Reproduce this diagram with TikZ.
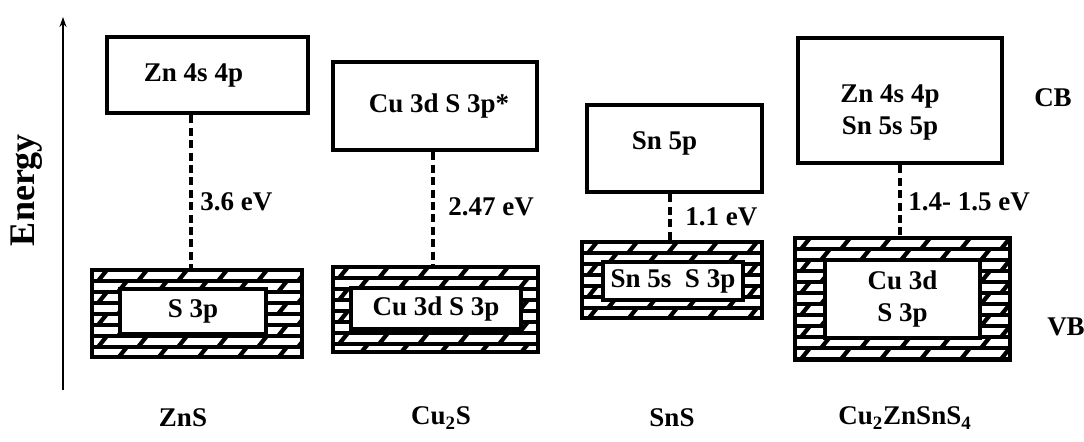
\documentclass[tikz,border=0pt]{standalone}
\usepackage{fontspec}
\setmainfont{Liberation Serif}
\usetikzlibrary{arrows.meta,fit}

\begin{document}
\begin{tikzpicture}[
  x=0.5pt, y=-0.5pt,
  font=\fontsize{13.5}{16}\selectfont\bfseries,
  every node/.style={inner sep=0pt},
  every label/.style={align=center},
  cbbox/.style={draw=ink, line width=2.4pt, fill=white},
  vbouter/.style={draw=ink, line width=2.2pt},
  vbinner/.style={draw=ink, line width=2.2pt},
  hatchline/.style={ink, line width=1.9pt},
  slash/.style={ink, line width=2.1pt},
  gap/.style={ink, line width=2pt, dash pattern=on 4pt off 2.2pt},
]

\definecolor{ink}{HTML}{000000}

\useasboundingbox (0,0) rectangle (1084,441);

% energy axis
\coordinate (abot) at (63,390);
\coordinate (atop) at (63,17);
\draw[ink, line width=1pt, -{Stealth[length=5pt,width=3.5pt]}] (abot) -- (atop);
\node[rotate=90, font=\fontsize{18}{20}\selectfont\bfseries] (elbl) at (27,190) {Energy};

% conduction bands
\node[cbbox, fit={(107,37) (308,113)},
  label={[xshift=-7pt]center:Zn 4s 4p}] (cb1) {};
\node[cbbox, fit={(333,62) (537,150)},
  label={[xshift=2pt]center:Cu 3d S 3p*}] (cb2) {};
\node[cbbox, fit={(587,105) (762,192)},
  label={[xshift=-5pt,yshift=2.5pt]center:Sn 5p}] (cb3) {};
\node[cbbox, fit={(798,38) (1002,163)},
  label={[xshift=-5pt,yshift=-6pt]center:Zn 4s 4p\\Sn 5s 5p}] (cb4) {};

% valence bands: text / outer box / inner box
\def\bands{%
  {S 3p}/92/270/302/357/120/289/266/334,
  {Cu 3d S 3p}/333/267/538/352/351/288/521/329,
  {Sn 5s~~S 3p}/582/242/762/318/603/262/743/300,
  {Cu 3d\\S 3p}/795/238/1010/360/825/260/980/338%
}

\foreach \txt/\ax/\ay/\bx/\by/\px/\py/\qx/\qy [count=\i] in \bands {
  \begin{scope}[even odd rule]
    \clip (\ax,\ay) rectangle (\bx,\by) (\px,\py) rectangle (\qx,\qy);
    \foreach \k in {0,...,11} {
      \draw[hatchline] (\ax,\ay+\k*11) -- (\bx,\ay+\k*11);
      \foreach \j in {0,...,6} {
        \pgfmathsetmacro{\sx}{\ax+mod(\k,2)*20+\j*40+6}
        \draw[slash] (\sx,\ay+\k*11+11) -- (\sx+9,\ay+\k*11);
      }
    }
  \end{scope}
  \node[vbouter, fit={(\ax,\ay) (\bx,\by)}] (vb\i) {};
  \node[vbinner, fit={(\px,\py) (\qx,\qy)}, label={center:\txt}] (in\i) {};
}

% band gaps
\foreach \gx/\lx/\ly/\ev [count=\i] in {%
  191/200/202/{3.6 eV},
  433/448/207/{2.47 eV},
  670/685/217/{1.1 eV},
  900/908/202/{1.4- 1.5 eV}%
} {
  \coordinate (g\i) at (\gx,0);
  \draw[gap] (cb\i.south -| g\i) -- (vb\i.north -| g\i);
  \node[anchor=west] (ev\i) at (\lx,\ly) {\ev};
}

\node (cblbl) at (1053,98) {CB};
\node (vblbl) at (1066,327) {VB};

% compounds
\node (zns) at (183,418) {ZnS};
\node (cus) at (441,418) {Cu\textsubscript{2}S};
\node (sns) at (672,418) {SnS};
\node (czts) at (905,418) {Cu\textsubscript{2}ZnSnS\textsubscript{4}};

\end{tikzpicture}
\end{document}
